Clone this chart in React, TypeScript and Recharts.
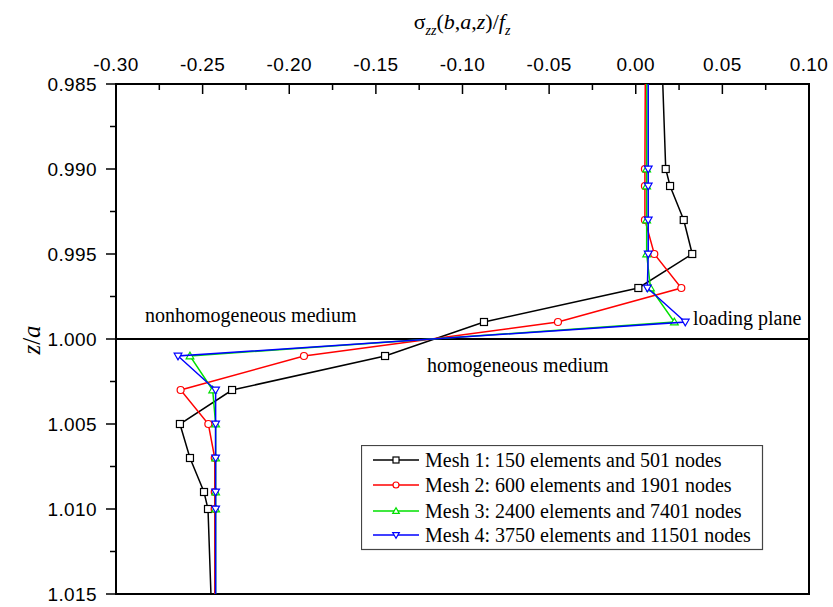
import React from 'react';
import { ScatterChart, Scatter, XAxis, YAxis, ReferenceLine, ReferenceArea, Legend } from 'recharts';

// depth levels z/a (0.985 and 1.015 are where the curves leave the frame, no marker)
const zLevels = [0.985, 0.99, 0.991, 0.993, 0.995, 0.997, 0.999, 1.001, 1.003, 1.005, 1.007, 1.009, 1.01, 1.015];

// sigma_zz(b,a,z)/f_z
const mesh1 = [0.0156, 0.0173, 0.0198, 0.0277, 0.0326, 0.0015, -0.0876, -0.1447, -0.233, -0.2631, -0.2573, -0.2492, -0.2469, -0.2452];
const mesh2 = [0.0055, 0.0053, 0.0053, 0.0053, 0.0107, 0.0263, -0.0449, -0.1915, -0.2627, -0.2467, -0.243, -0.243, -0.243, -0.243];
const mesh3 = [0.0064, 0.0063, 0.0063, 0.0063, 0.0063, 0.0085, 0.0223, -0.2573, -0.2442, -0.2425, -0.2425, -0.2425, -0.2425, -0.2425];
const mesh4 = [0.0072, 0.0072, 0.0072, 0.0072, 0.0072, 0.0067, 0.0286, -0.2642, -0.2425, -0.2425, -0.2425, -0.2425, -0.2425, -0.2425];

const meshNames = [
  'Mesh 1: 150 elements and 501 nodes',
  'Mesh 2: 600 elements and 1901 nodes',
  'Mesh 3: 2400 elements and 7401 nodes',
  'Mesh 4: 3750 elements and 11501 nodes',
];
const meshColors = ['#000000', '#ff0000', '#00e000', '#0000ff'];
const meshMarkers: MarkerKind[] = ['square', 'circle', 'up', 'down'];

const xTicks = [-0.3, -0.275, -0.25, -0.225, -0.2, -0.175, -0.15, -0.125, -0.1, -0.075, -0.05, -0.025, 0, 0.025, 0.05, 0.075, 0.1];
const yTicks = [0.985, 0.9875, 0.99, 0.9925, 0.995, 0.9975, 1.0, 1.0025, 1.005, 1.0075, 1.01, 1.0125, 1.015];

type MarkerKind = 'square' | 'circle' | 'up' | 'down';

const toRows = (vals: number[]) =>
  zLevels.map((z, i) => ({ x: vals[i], z, edge: i === 0 || i === zLevels.length - 1 }));

const series = [mesh1, mesh2, mesh3, mesh4].map(toRows);

const SERIF = '"Liberation Serif", "Times New Roman", serif';
const SANS = '"Liberation Sans", Arial, sans-serif';

const Marker = ({ kind, cx, cy, color, s }: { kind: MarkerKind; cx: number; cy: number; color: string; s: number }) => {
  const h = s / 2;
  if (kind === 'square')
    return <rect x={cx - h} y={cy - h} width={s} height={s} fill="#fff" stroke={color} strokeWidth={1.2} />;
  if (kind === 'circle') return <circle cx={cx} cy={cy} r={h} fill="#fff" stroke={color} strokeWidth={1.2} />;
  if (kind === 'up')
    return (
      <polygon
        points={`${cx},${cy - h * 1.1} ${cx - h * 1.1},${cy + h * 0.8} ${cx + h * 1.1},${cy + h * 0.8}`}
        fill="#fff"
        stroke={color}
        strokeWidth={1.2}
      />
    );
  return (
    <polygon
      points={`${cx},${cy + h * 1.1} ${cx - h * 1.1},${cy - h * 0.8} ${cx + h * 1.1},${cy - h * 0.8}`}
      fill="#fff"
      stroke={color}
      strokeWidth={1.2}
    />
  );
};

const isMajor = (v: number, step: number) => Math.abs(Math.round(v * 10000)) % Math.round(step * 10000) === 0;

const TopTick = (props: any) => {
  const { x, y, payload } = props;
  const major = isMajor(payload.value, 0.05);
  return (
    <g>
      <line x1={x} x2={x} y1={y} y2={y + (major ? 10 : 6)} stroke="#000" strokeWidth={1.5} />
      {major && (
        <text x={x} y={y - 13} textAnchor="middle" fontFamily={SANS} fontSize={19} letterSpacing={0.4} fill="#000">
          {payload.value.toFixed(2)}
        </text>
      )}
    </g>
  );
};

const LeftTick = (props: any) => {
  const { x, y, payload } = props;
  const major = isMajor(payload.value, 0.005);
  return (
    <g>
      <line x1={x - (major ? 10 : 6)} x2={x} y1={y} y2={y} stroke="#000" strokeWidth={1.5} />
      {major && (
        <text x={x - 19} y={y + 7} textAnchor="end" fontFamily={SANS} fontSize={19} letterSpacing={0.4} fill="#000">
          {payload.value.toFixed(3)}
        </text>
      )}
    </g>
  );
};

const LegendBox = () => (
  <svg width={403} height={106} style={{ display: 'block' }}>
    <rect x={0.5} y={0.5} width={401} height={104} fill="#fff" stroke="#444" strokeWidth={1.2} />
    {meshNames.map((name, i) => {
      const cy = [15, 40, 66, 90][i];
      return (
        <g key={name}>
          <line x1={12} x2={58} y1={cy} y2={cy} stroke={meshColors[i]} strokeWidth={1.5} />
          <Marker kind={meshMarkers[i]} cx={35} cy={cy} color={meshColors[i]} s={6} />
          <text x={64} y={cy + 7} fontFamily={SERIF} fontSize={20} fill="#000">
            {name}
          </text>
        </g>
      );
    })}
  </svg>
);

const App: React.FC = () => {
  return (
    <div style={{ position: 'absolute', left: 0, top: 0, width: 833, height: 607, background: '#fff' }}>
      <ScatterChart width={833} height={607} margin={{ top: 54, left: 56, right: 24, bottom: 13 }}>
        <XAxis
          type="number"
          dataKey="x"
          orientation="top"
          domain={[-0.3, 0.1]}
          ticks={xTicks}
          interval={0}
          height={30}
          tickSize={0}
          tickMargin={0}
          tickLine={false}
          tick={<TopTick />}
          axisLine={{ stroke: '#000', strokeWidth: 2 }}
          allowDataOverflow
        />
        <YAxis
          type="number"
          dataKey="z"
          domain={[0.985, 1.015]}
          reversed
          ticks={yTicks}
          interval={0}
          width={60}
          tickSize={0}
          tickMargin={0}
          tickLine={false}
          tick={<LeftTick />}
          axisLine={{ stroke: '#000', strokeWidth: 2 }}
          allowDataOverflow
        />
        <ReferenceArea x1={-0.3} x2={0.1} y1={0.985} y2={1.015} fill="none" stroke="#000" strokeWidth={2} ifOverflow="visible" />
        <ReferenceLine y={1.0} stroke="#000" strokeWidth={2} />
        {series.map((rows, i) => (
          <Scatter
            key={meshNames[i]}
            name={meshNames[i]}
            data={rows}
            fill={meshColors[i]}
            line={{ stroke: meshColors[i], strokeWidth: 1.5 }}
            lineType="joint"
            isAnimationActive={false}
            shape={(p: any) =>
              p.payload && p.payload.edge ? (
                <g />
              ) : (
                <Marker kind={meshMarkers[i]} cx={p.cx} cy={p.cy} color={meshColors[i]} s={7} />
              )
            }
          />
        ))}
        <Legend
          layout="horizontal"
          verticalAlign="middle"
          align="center"
          content={() => <LegendBox />}
          wrapperStyle={{ position: 'absolute', left: 361, top: 445, width: 403, height: 106 }}
        />
      </ScatterChart>
      <svg width={833} height={607} style={{ position: 'absolute', left: 0, top: 0, pointerEvents: 'none' }}>
        <text x={462} y={29} textAnchor="middle" fontFamily={SERIF} fontSize={22} fill="#000">
          σ
          <tspan fontSize={14} fontStyle="italic" dy={6}>
            zz
          </tspan>
          <tspan dy={-6}>(</tspan>
          <tspan fontStyle="italic">b</tspan>,<tspan fontStyle="italic">a</tspan>,<tspan fontStyle="italic">z</tspan>)/
          <tspan fontStyle="italic">f</tspan>
          <tspan fontStyle="italic" fontSize={14} dy={6}>
            z
          </tspan>
        </text>
        <text
          x={40}
          y={340}
          transform="rotate(-90 40 340)"
          textAnchor="middle"
          fontFamily={SERIF}
          fontSize={25}
          fill="#000"
        >
          <tspan fontStyle="italic">z</tspan>/<tspan fontStyle="italic">a</tspan>
        </text>
        <text x={145} y={322} fontFamily={SERIF} fontSize={20} fill="#000">
          nonhomogeneous medium
        </text>
        <text x={427} y={372} fontFamily={SERIF} fontSize={20} fill="#000">
          homogeneous medium
        </text>
        <text x={693} y={325} fontFamily={SERIF} fontSize={20} fill="#000">
          loading plane
        </text>
      </svg>
    </div>
  );
};

export default App;
